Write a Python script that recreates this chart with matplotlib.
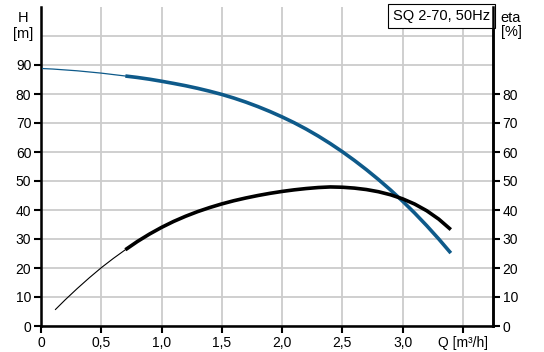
import numpy as np
import matplotlib
matplotlib.use("Agg")
import matplotlib.pyplot as plt

plt.rcParams['font.family'] = ['Liberation Sans', 'DejaVu Sans']

# head curve H [m] vs Q [m3/h]
q_head = [0.0, 0.1, 0.2, 0.3, 0.4, 0.5, 0.6, 0.7, 0.8, 0.9, 1.0, 1.1, 1.2, 1.3, 1.4, 1.5, 1.6, 1.7,
          1.8, 1.9, 2.0, 2.1, 2.2, 2.3, 2.4, 2.5, 2.6, 2.7, 2.8, 2.9, 3.0, 3.1, 3.2, 3.3, 3.4]
h_head = [88.8, 88.6, 88.3, 88.0, 87.6, 87.2, 86.7, 86.2, 85.7, 85.1, 84.4, 83.65, 82.85, 81.95,
          80.95, 79.85, 78.6, 77.2, 75.65, 73.95, 72.1, 70.1, 67.9, 65.5, 62.9, 60.1, 57.1, 53.9,
          50.5, 46.9, 43.05, 38.95, 34.6, 30.0, 25.15]

# efficiency curve eta [%] vs Q [m3/h]
q_eta = [0.12, 0.2, 0.3, 0.4, 0.5, 0.6, 0.7, 0.8, 0.9, 1.0, 1.1, 1.2, 1.3, 1.4, 1.5, 1.6, 1.7, 1.8,
         1.9, 2.0, 2.1, 2.2, 2.3, 2.4, 2.5, 2.6, 2.7, 2.8, 2.9, 3.0, 3.1, 3.2, 3.3, 3.4]
eta = [5.7, 9.0, 12.9, 16.6, 20.1, 23.3, 26.3, 29.15, 31.7, 34.0, 36.05, 37.85, 39.45, 40.85, 42.1,
       43.2, 44.15, 45.0, 45.75, 46.4, 46.95, 47.4, 47.75, 47.95, 47.85, 47.55, 47.05, 46.3, 45.25,
       43.85, 42.05, 39.75, 36.85, 33.25]

q_thick_start = 0.7

x_ticks = [0, 0.5, 1.0, 1.5, 2.0, 2.5, 3.0, 3.5]
x_labels = ["0", "0,5", "1,0", "1,5", "2,0", "2,5", "3,0", "Q [m³/h]"]
h_ticks = list(range(0, 100, 10))
eta_ticks = list(range(0, 90, 10))

blue = "#0e5a8a"

fig = plt.figure(figsize=(5.44, 3.52), dpi=100)
ax = fig.add_axes([41 / 544, 26 / 352, 452 / 544, 319 / 352])

qh = np.array(q_head)
hh = np.array(h_head)
qe = np.array(q_eta)
ee = np.array(eta)

# thin parts of the curves (outside the recommended range)
ax.plot(qh[qh <= q_thick_start], hh[qh <= q_thick_start], color=blue, lw=0.9, zorder=3)
ax.plot(qh[qh >= q_thick_start], hh[qh >= q_thick_start], color=blue, lw=2.6, zorder=3,
        solid_capstyle='butt')
ax.plot(qe[qe <= q_thick_start], ee[qe <= q_thick_start], color="black", lw=0.8, zorder=4)
ax.plot(qe[qe >= q_thick_start], ee[qe >= q_thick_start], color="black", lw=2.6, zorder=4,
        solid_capstyle='butt')

ax.set_xlim(0, 3.75)
ax.set_ylim(0, 110)
ax.set_xticks(x_ticks)
ax.set_xticklabels(x_labels)
ax.set_yticks(h_ticks)
ax.set_yticks([100], minor=True)
ax.grid(True, which='both', color="#cccccc", lw=1.3, zorder=0)
ax.set_axisbelow(True)
ax.tick_params(which='minor', length=0)

for side in ["left", "bottom", "right"]:
    ax.spines[side].set_linewidth(1.8)
ax.spines["top"].set_visible(False)
ax.tick_params(axis='both', direction='out', length=5, width=1.5, labelsize=10, pad=2)

ax2 = ax.twinx()
ax2.set_ylim(0, 110)
ax2.set_yticks(eta_ticks)
ax2.spines["top"].set_visible(False)
ax2.spines["right"].set_linewidth(1.8)
ax2.tick_params(axis='y', direction='out', length=5, width=1.5, labelsize=10, pad=2)

fig.text(23 / 544, 1 - 26 / 352, "H\n[m]", ha='center', va='center', fontsize=10.5, linespacing=1.15)
fig.text(511 / 544, 1 - 25 / 352, "eta\n[%]", ha='center', va='center', fontsize=10.5, linespacing=1.05)

ax.text(0.993, 0.993, "SQ 2-70, 50Hz", transform=ax.transAxes, ha='right', va='top', fontsize=10.5,
        bbox=dict(boxstyle='square,pad=0.35', fc='white', ec='black', lw=0.8), zorder=6)

fig.savefig("out.png", dpi=100)
